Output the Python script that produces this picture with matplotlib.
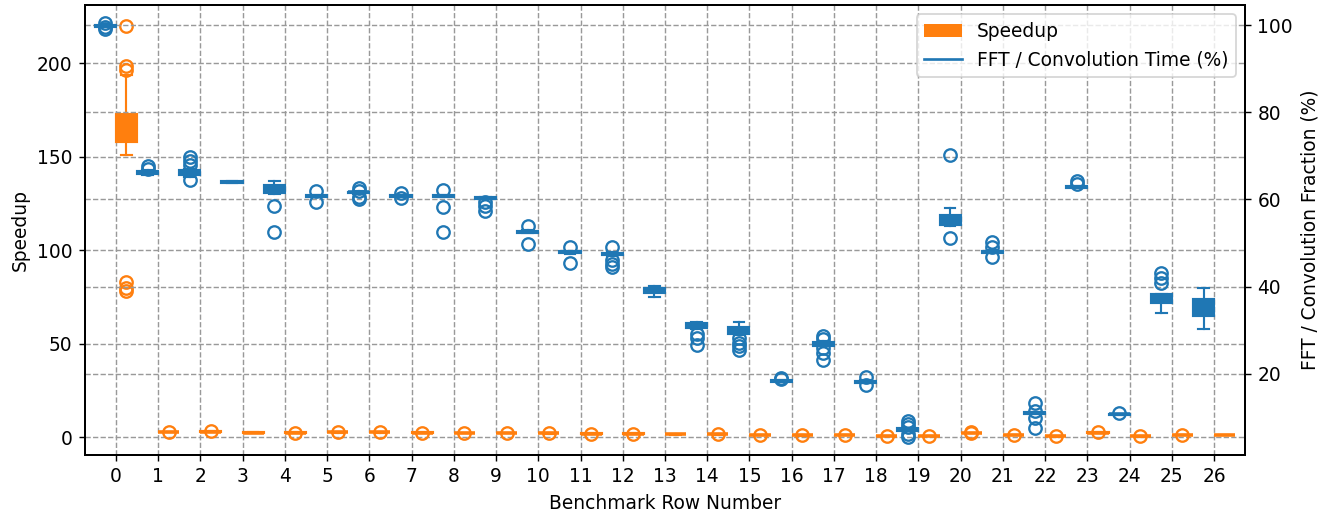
import matplotlib
matplotlib.use('Agg')
import matplotlib.pyplot as plt
from matplotlib.patches import Patch
from matplotlib.lines import Line2D

rows = list(range(27))

# FFT / convolution time fraction (%), right axis
fft_med = [99.8, 66.3, 66.1, 64.0, 62.6, 60.8, 61.6, 60.8, 60.8, 60.3, 52.6, 47.9, 47.5, 39.0,
           31.0, 30.1, 18.4, 26.9, 18.2, 7.2, 55.3, 48.0, 11.0, 62.9, 10.7, 37.4, 35.4]
fft_q1 = [99.6, 65.9, 65.5, 63.8, 61.5, 60.6, 61.4, 60.6, 60.6, 60.1, 52.4, 47.7, 47.2, 38.5,
          30.5, 29.1, 18.2, 26.4, 18.0, 6.9, 54.2, 47.8, 10.8, 62.7, 10.6, 36.2, 33.3]
fft_q3 = [100.0, 66.6, 66.8, 64.2, 63.3, 61.0, 61.8, 61.0, 61.0, 60.5, 52.8, 48.1, 47.8, 39.6,
          31.6, 30.7, 18.6, 27.4, 18.4, 7.5, 56.4, 48.2, 11.2, 63.1, 10.8, 38.3, 37.1]
fft_lo = [99.5, 65.7, 65.2, 63.7, 61.3, 60.5, 61.2, 60.5, 60.5, 60.0, 52.3, 47.6, 47.1, 37.6,
          30.4, 29.0, 18.1, 26.3, 17.9, 6.8, 54.0, 47.7, 10.7, 62.6, 10.5, 33.9, 30.2]
fft_hi = [100.1, 66.8, 67.0, 64.3, 64.2, 61.1, 61.9, 61.1, 61.1, 60.6, 52.9, 48.2, 47.9, 40.2,
          31.9, 32.0, 18.7, 27.5, 18.5, 7.6, 58.0, 48.3, 11.3, 63.2, 10.9, 38.4, 39.6]
fft_fliers = [[100.4, 99.5, 99.0], [67.7, 66.9], [69.7, 68.8, 67.9, 64.5], [],
              [58.5, 52.6], [62.0, 59.5], [62.6, 62.0, 60.6, 60.1], [61.5, 60.3],
              [62.1, 58.3, 52.6], [59.4, 58.5, 57.4], [53.9, 49.8], [49.2, 45.4],
              [49.0, 46.1, 45.2, 44.6], [], [29.2, 28.2, 26.6], [28.2, 27.0, 26.3, 25.5],
              [19.0, 18.8], [28.6, 27.9, 25.9, 24.7, 23.2], [19.4, 17.5],
              [9.1, 8.5, 7.9, 6.2, 5.6], [70.3, 51.1], [50.3, 49.2, 46.9],
              [13.3, 11.6, 9.8, 7.5], [64.2, 63.6], [11.0], [43.1, 41.9, 40.8], []]

# speedup, left axis
sp_med = [165.0, 2.84, 3.02, 2.49, 2.49, 2.67, 2.67, 2.49, 2.31, 2.31, 2.13, 1.96, 1.96, 1.6,
          1.6, 1.24, 1.07, 1.24, 0.7, 0.7, 2.2, 1.24, 0.5, 2.5, 0.5, 1.24, 1.24]
sp_q1 = [158.0] + [m - 0.1 for m in sp_med[1:]]
sp_q3 = [172.8] + [m + 0.1 for m in sp_med[1:]]
sp_lo = [151.0] + [m - 0.2 for m in sp_med[1:]]
sp_hi = [193.6] + [m + 0.2 for m in sp_med[1:]]
sp_fliers = [[220.0, 198.5, 196.0, 82.7, 80.0, 78.0], [2.9], [3.1], [], [2.5], [2.7], [2.7],
             [2.5], [2.3], [2.3], [2.1], [1.9], [1.9], [], [1.5], [1.2], [1.0], [1.2],
             [0.6], [0.6], [2.9, 2.5], [1.2], [0.4], [2.6], [0.4], [1.2], []]

plt.rcParams['font.size'] = 10.5


def make_stats(med, q1, q3, lo, hi, fl):
    return [dict(med=med[i], q1=q1[i], q3=q3[i], whislo=lo[i], whishi=hi[i], fliers=fl[i])
            for i in range(len(med))]


def draw(axis, stats, pos, c):
    axis.bxp(stats, positions=pos, widths=0.5, patch_artist=True, manage_ticks=False,
             boxprops=dict(facecolor=c, edgecolor=c, linewidth=1.2),
             medianprops=dict(color=c, linewidth=2.0),
             whiskerprops=dict(color=c, linewidth=1.2),
             capprops=dict(color=c, linewidth=1.2),
             flierprops=dict(marker='o', markeredgecolor=c, markerfacecolor='none',
                             markersize=7, markeredgewidth=1.3))


blue = '#1f77b4'
orange = '#ff7f0e'

fig = plt.figure(figsize=(1329 / 128, 519 / 128), dpi=128)
ax = fig.add_axes([85 / 1329, 1 - 455 / 519, 1160 / 1329, 450 / 519])
ax2 = ax.twinx()

draw(ax, make_stats(sp_med, sp_q1, sp_q3, sp_lo, sp_hi, sp_fliers),
     [r + 0.25 for r in rows], orange)
draw(ax2, make_stats(fft_med, fft_q1, fft_q3, fft_lo, fft_hi, fft_fliers),
     [r - 0.25 for r in rows], blue)

ax.set_xticks(rows)
ax.set_xticklabels([str(r) for r in rows])
ax.set_xlim(-0.73, 26.73)
ax.set_ylim(-9.5, 231)
ax2.set_ylim(1.4, 104.6)

for a in (ax, ax2):
    a.grid(True, linestyle='--', color='#999999', linewidth=0.8)
    for s in a.spines.values():
        s.set_linewidth(1.1)

ax.set_xlabel('Benchmark Row Number')
ax.set_ylabel('Speedup')
ax2.set_ylabel('FFT / Convolution Fraction (%)')

handles = [Patch(facecolor=orange, label='Speedup'),
           Line2D([0], [0], color=blue, label='FFT / Convolution Time (%)')]
ax2.legend(handles=handles, loc='upper right')

fig.savefig('out.png', dpi=128)
